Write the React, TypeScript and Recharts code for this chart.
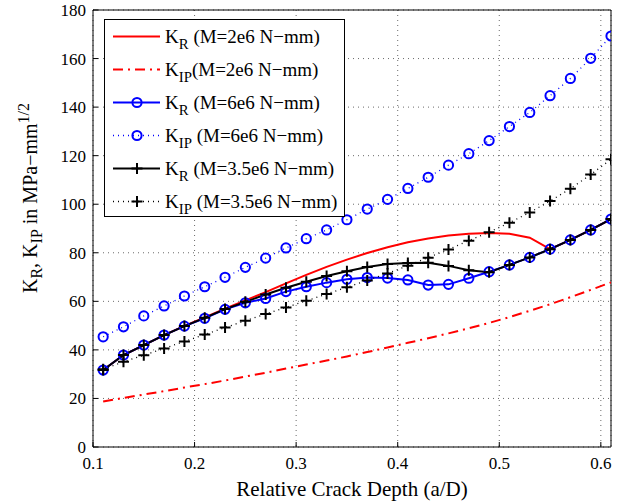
import { LineChart, Line, XAxis, YAxis, CartesianGrid, Legend, ReferenceLine } from 'recharts';

const depth = [0.11, 0.13, 0.15, 0.17, 0.19, 0.21, 0.23, 0.25, 0.27, 0.29, 0.31, 0.33, 0.35, 0.37, 0.39, 0.41, 0.43, 0.45, 0.47, 0.49, 0.51, 0.53, 0.55, 0.57, 0.59, 0.61];

// M = 2e6 N-mm
const kr2 = [31.7, 37.9, 42.0, 46.1, 49.9, 53.4, 57.0, 60.4, 63.8, 67.4, 70.9, 74.2, 77.2, 79.9, 82.3, 84.3, 85.9, 87.1, 87.8, 88.1, 87.8, 86.2, 81.5, 85.3, 89.4, 93.9];
const kip2 = [18.7, 20.2, 21.6, 23.0, 24.5, 25.9, 27.4, 29.0, 30.6, 32.3, 34.0, 35.6, 37.3, 39.1, 41.0, 42.9, 44.8, 46.8, 48.9, 51.1, 53.5, 56.1, 58.8, 61.7, 64.7, 67.8];
// M = 6e6 N-mm
const kr6 = [31.7, 37.9, 42.0, 46.1, 49.8, 53.0, 56.7, 59.4, 61.2, 64.0, 66.0, 67.7, 69.1, 69.8, 69.6, 68.8, 66.7, 67.0, 69.5, 72.2, 75.0, 78.1, 81.5, 85.3, 89.4, 93.9];
const kip6 = [45.4, 49.5, 54.0, 58.1, 62.2, 66.0, 69.9, 74.0, 77.8, 82.0, 85.8, 89.4, 93.6, 98.0, 102.0, 106.5, 111.1, 116.1, 120.8, 126.2, 132.0, 137.8, 144.7, 151.8, 160.1, 169.3];
// M = 3.5e6 N-mm
const kr35 = [31.7, 37.9, 42.0, 46.1, 49.8, 53.2, 56.8, 59.8, 62.8, 65.6, 68.1, 70.4, 72.4, 74.1, 75.4, 75.8, 75.9, 74.6, 72.8, 72.0, 75.0, 78.1, 81.5, 85.3, 89.4, 93.9];
const kip35 = [32.0, 35.1, 37.8, 40.6, 43.5, 46.3, 49.2, 52.0, 54.8, 57.5, 60.2, 63.0, 65.8, 68.6, 71.5, 74.7, 78.0, 81.4, 85.0, 88.5, 92.4, 96.6, 101.3, 106.4, 112.2, 118.5];

const xTicks = [0.1, 0.2, 0.3, 0.4, 0.5, 0.6];
const yTicks = [0, 20, 40, 60, 80, 100, 120, 140, 160, 180];

const data = depth.map((d, i) => ({
  d,
  kr2: kr2[i],
  kip2: kip2[i],
  kr6: kr6[i],
  kip6: kip6[i],
  kr35: kr35[i],
  kip35: kip35[i],
}));

const FONT = "'Liberation Serif', 'Times New Roman', Times, 'DejaVu Serif', serif";
const BLUE = '#0000ff';
const RED = '#ff0000';

const Plus = (props: any) => {
  const { cx, cy, index } = props;
  if (cx == null || cy == null) return null;
  return (
    <path
      key={`p-${props.dataKey}-${index}`}
      d={`M${cx - 5.5},${cy}H${cx + 5.5}M${cx},${cy - 5.5}V${cy + 5.5}`}
      stroke="#000"
      strokeWidth={2}
      fill="none"
    />
  );
};

const circleDot = { r: 4.6, stroke: BLUE, strokeWidth: 2, fill: 'none', strokeDasharray: 'none' };

const legendRows = [
  { sub: 'R', text: ' (M=2e6 N\u2212mm)', color: RED, dash: undefined, width: 2, marker: 'none' },
  { sub: 'IP', text: '(M=2e6 N\u2212mm)', color: RED, dash: '10 5 2 5', width: 2, marker: 'none' },
  { sub: 'R', text: ' (M=6e6 N\u2212mm)', color: BLUE, dash: undefined, width: 2, marker: 'circle' },
  { sub: 'IP', text: ' (M=6e6 N\u2212mm)', color: BLUE, dash: '1 4', width: 1.3, marker: 'circle' },
  { sub: 'R', text: ' (M=3.5e6 N\u2212mm)', color: '#000', dash: undefined, width: 2, marker: 'plus' },
  { sub: 'IP', text: ' (M=3.5e6 N\u2212mm)', color: '#000', dash: '1 4', width: 1.3, marker: 'plus' },
];

const LegendBox = () => (
  <div
    style={{
      width: 241,
      height: 198,
      border: '1px solid #000',
      background: '#fff',
      boxSizing: 'border-box',
      fontFamily: FONT,
      fontSize: 19,
      color: '#000',
    }}
  >
    {legendRows.map((r, i) => (
      <div key={i} style={{ height: 33, display: 'flex', alignItems: 'center', whiteSpace: 'nowrap' }}>
        <svg width={60} height={33} style={{ flex: 'none' }}>
          <line x1={8} x2={55} y1={16.5} y2={16.5} stroke={r.color} strokeWidth={r.width} strokeDasharray={r.dash} />
          {r.marker === 'circle' && <circle cx={32} cy={16.5} r={4.6} stroke={BLUE} strokeWidth={2} fill="none" />}
          {r.marker === 'plus' && <path d="M26.5,16.5H37.5M32,11V22" stroke="#000" strokeWidth={2} />}
        </svg>
        <span>
          K<span style={{ fontSize: '0.78em', position: 'relative', top: '0.45em' }}>{r.sub}</span>
          {r.text}
        </span>
      </div>
    ))}
  </div>
);

const YLabel = () => {
  const cx = 37;
  const cy = 198;
  return (
    <text
      x={cx}
      y={cy}
      transform={`rotate(-90, ${cx}, ${cy})`}
      textAnchor="middle"
      fontFamily={FONT}
      fontSize={20}
      fill="#000"
    >
      K<tspan fontSize={16} dy={5}>R</tspan>
      <tspan dy={-5}>, K</tspan>
      <tspan fontSize={16} dy={5}>IP</tspan>
      <tspan dy={-5}> in MPa{'\u2212'}mm</tspan>
      <tspan fontSize={16} dy={-8}>1/2</tspan>
    </text>
  );
};

const XLabel = () => (
  <text x={352} y={496} textAnchor="middle" fontFamily={FONT} fontSize={21} fill="#000">
    Relative Crack Depth (a/D)
  </text>
);

export default function App() {
  const tickStyle = { fontFamily: FONT, fontSize: 17, fill: '#000' };
  return (
    <div style={{ position: 'absolute', left: 0, top: 0, width: 629, height: 504, background: '#fff', fontFamily: FONT }}>
      <LineChart width={629} height={504} data={data} margin={{ top: 10, right: 18, bottom: 0, left: 0 }}>
        <CartesianGrid stroke="#444" strokeWidth={0.8} strokeDasharray="1 4" />
        <XAxis
          dataKey="d"
          type="number"
          domain={[0.1, 0.61]}
          ticks={xTicks}
          allowDataOverflow
          height={57}
          stroke="#000"
          tickSize={-5}
          tickMargin={15}
          tick={tickStyle}
          tickFormatter={(v: number) => String(v)}
          label={<XLabel />}
        />
        <XAxis
          xAxisId="top"
          dataKey="d"
          type="number"
          orientation="top"
          domain={[0.1, 0.61]}
          ticks={xTicks}
          allowDataOverflow
          height={0}
          stroke="#000"
          tickSize={-5}
          tick={false}
        />
        <YAxis
          type="number"
          domain={[0, 180]}
          ticks={yTicks}
          allowDataOverflow
          width={93}
          stroke="#000"
          tickSize={-5}
          tickMargin={12}
          tick={tickStyle}
          label={<YLabel />}
        />
        <YAxis
          yAxisId="right"
          type="number"
          orientation="right"
          domain={[0, 180]}
          ticks={yTicks}
          allowDataOverflow
          width={0}
          stroke="#000"
          tickSize={-5}
          tick={false}
        />
        <ReferenceLine x={0.61} stroke="#000" />
        <ReferenceLine y={180} stroke="#000" />
        <Line dataKey="kr2" stroke={RED} strokeWidth={2} dot={false} isAnimationActive={false} />
        <Line dataKey="kip2" stroke={RED} strokeWidth={2} strokeDasharray="10 5 2 5" dot={false} isAnimationActive={false} />
        <Line dataKey="kr6" stroke={BLUE} strokeWidth={2} dot={circleDot} isAnimationActive={false} />
        <Line dataKey="kip6" stroke={BLUE} strokeWidth={1.3} strokeDasharray="1 4" dot={circleDot} isAnimationActive={false} />
        <Line dataKey="kr35" stroke="#000" strokeWidth={2} dot={Plus} isAnimationActive={false} />
        <Line dataKey="kip35" stroke="#000" strokeWidth={1.3} strokeDasharray="1 4" dot={Plus} isAnimationActive={false} />
        <Legend
          layout="vertical"
          align="center"
          verticalAlign="middle"
          content={<LegendBox />}
          wrapperStyle={{ left: 104, top: 19, width: 241, height: 198 }}
        />
      </LineChart>
    </div>
  );
}
